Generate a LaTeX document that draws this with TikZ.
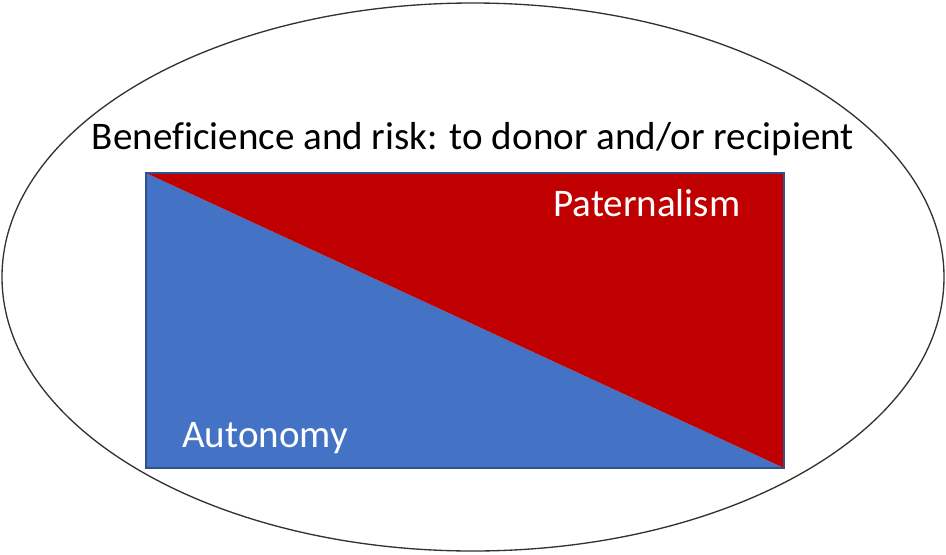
\documentclass[tikz,border=0pt]{standalone}
\usepackage{fontspec}
\setmainfont[Ligatures={NoCommon}]{Carlito}
\definecolor{offred}{HTML}{C00000}
\definecolor{offblue}{HTML}{4472C4}
\definecolor{offline}{HTML}{2F528F}

\begin{document}
\begin{tikzpicture}[
    x=0.75pt, y=-0.75pt,
    label/.style={inner sep=0pt, font=\fontsize{29.3}{34}\selectfont},
    whitelabel/.style={label, text=white}
]
    \useasboundingbox (0,0) rectangle (946,554);

    % Outer ellipse
    \draw[line width=1pt, black!80] (473,277) ellipse [x radius=471, y radius=274];

    % Split rectangle
    \coordinate (tl) at (146,173);
    \coordinate (tr) at (784,173);
    \coordinate (br) at (784,468);
    \coordinate (bl) at (146,468);
    \fill[offblue] (tl) -- (br) -- (bl) -- cycle;
    \fill[offred] (tl) -- (tr) -- (br) -- cycle;
    \draw[offline, line width=0.8pt] (tl) rectangle (br);

    % Labels
    \node[label, anchor=base] (title) at (473,149) {Beneficience and risk: to donor and/or recipient};
    \node[whitelabel, anchor=base west] (pat) at (553,216) {Paternalism};
    \node[whitelabel, anchor=base west] (aut) at (182,447) {Autonomy};

\end{tikzpicture}
\end{document}
